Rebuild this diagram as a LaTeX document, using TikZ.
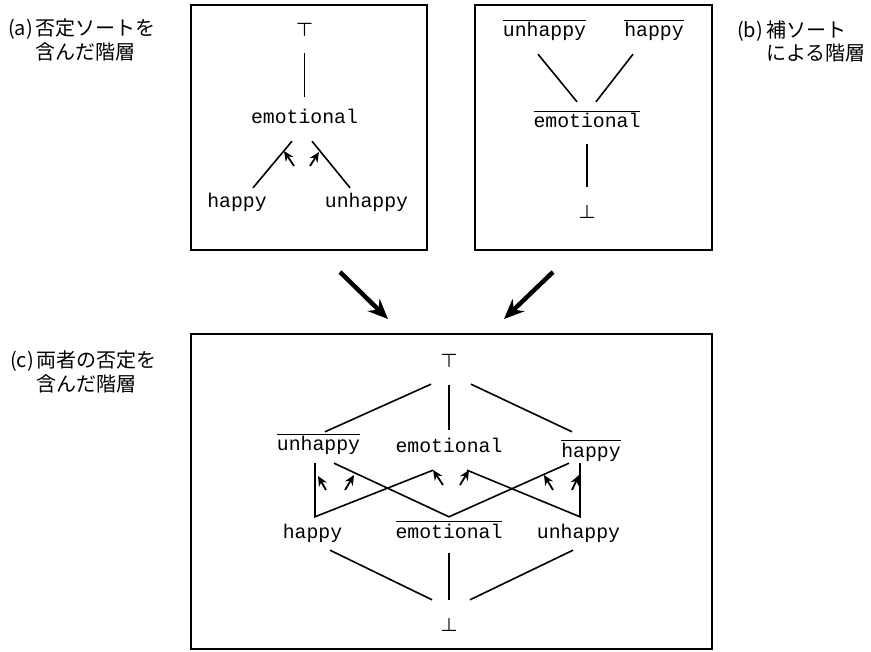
\documentclass[tikz,border=0pt]{standalone}
\usepackage{fontspec}
\usepackage{graphicx}
\newfontfamily\sortfont{Liberation Mono}
\newfontfamily\jpfont{Noto Sans CJK JP}
\usetikzlibrary{arrows.meta}

% overlined sort name and the two bounds
\newcommand\comp[1]{\sbox0{#1}\rlap{\rule[16pt]{\wd0}{1.3pt}}\usebox0}
\newcommand\topsort{\scalebox{1.9}{\boldmath$\top$}}
\newcommand\botsort{\scalebox{1.9}{\boldmath$\bot$}}

\tikzset{
  box/.style={draw, line width=2pt, inner sep=0pt},
  sort/.style={font=\sortfont\fontsize{19.8}{24}\selectfont, inner sep=0pt, text height=12pt, text depth=4pt},
  bound/.style={inner sep=0pt},
  caption/.style={font=\jpfont\fontsize{20}{21}\selectfont, inner sep=0pt, anchor=base west},
  edge/.style={line width=1.6pt},
  negarrow/.style={line width=1.8pt, -{Stealth[length=10pt,width=9pt]}},
  bigarrow/.style={line width=4.5pt, -{Stealth[length=20pt,width=17pt]}},
}

\begin{document}
\begin{tikzpicture}[x=1pt,y=-1pt]
    \useasboundingbox[fill=white] (0,0) rectangle (871,652);

    % frames
    \node[box, minimum width=236pt, minimum height=245pt] (boxa) at (309,127.5) {};
    \node[box, minimum width=237pt, minimum height=245pt] (boxb) at (593.5,127.5) {};
    \node[box, minimum width=521pt, minimum height=315pt] (boxc) at (451.5,491.5) {};

    % captions
    \node[caption] (capa) at (8,36) {\begin{tabular}[t]{@{}l@{\hspace{3pt}}l@{}}(a)&否定ソートを\\&含んだ階層\end{tabular}};
    \node[caption] (capb) at (737,38) {\begin{tabular}[t]{@{}l@{\hspace{3pt}}l@{}}(b)&補ソート\\&による階層\end{tabular}};
    \node[caption] (capc) at (10,368) {\begin{tabular}[t]{@{}l@{\hspace{3pt}}l@{}}(c)&両者の否定を\\&含んだ階層\end{tabular}};

    % (a) negated sorts
    \node[bound] (aT) at (304.5,30) {\topsort};
    \node[sort] (aemo) at (304.5,120) {emotional};
    \node[sort] (ahappy) at (237,204) {happy};
    \node[sort] (aunhappy) at (366.5,204) {unhappy};

    \draw[edge, shorten <=16pt, shorten >=15pt] (aT) -- (aemo);
    \draw[edge] ([shift={(16,-8)}]ahappy.north) -- ([shift={(-12.5,13)}]aemo.south);
    \draw[edge] ([shift={(-16.5,-8)}]aunhappy.north) -- ([shift={(7.5,13)}]aemo.south);
    \draw[negarrow] (294,166) -- (284,151);
    \draw[negarrow] (310,166) -- (319,152);

    % (b) complement sorts
    \node[sort] (bunhappy) at (544.5,33) {\comp{unhappy}};
    \node[sort] (bhappy) at (654,33) {\comp{happy}};
    \node[sort] (bemo) at (587,124) {\comp{emotional}};
    \node[bound] (bB) at (587,212) {\botsort};

    \draw[edge] ([shift={(-6.5,13)}]bunhappy.south) -- ([shift={(-10,-14)}]bemo.north);
    \draw[edge] ([shift={(-21,13)}]bhappy.south) -- ([shift={(9,-14)}]bemo.north);
    \draw[edge, shorten <=12pt, shorten >=18pt] (bemo) -- (bB);

    % (c) both
    \node[bound] (cT) at (449,361) {\topsort};
    \node[sort] (cnu) at (318.5,447) {\comp{unhappy}};
    \node[sort] (cemo) at (449,449) {emotional};
    \node[sort] (cnh) at (591,453) {\comp{happy}};
    \node[sort] (chappy) at (312.5,534) {happy};
    \node[sort] (cnemo) at (449,534) {\comp{emotional}};
    \node[sort] (cunhappy) at (578.5,534) {unhappy};
    \node[bound] (cB) at (449,625) {\botsort};

    \draw[edge] ([shift={(-18,16.4)}]cT.south) -- ([shift={(6.5,-7)}]cnu.north);
    \draw[edge, shorten <=17pt, shorten >=11pt] (cT) -- (cemo);
    \draw[edge] ([shift={(22,16.4)}]cT.south) -- ([shift={(-19,-13)}]cnh.north);

    \draw[edge] ([shift={(-3.5,8)}]cnu.south) -- ([shift={(2.5,-9)}]chappy.north) -- ([shift={(-16,13)}]cemo.south);
    \draw[edge] ([shift={(15.5,8)}]cnu.south) -- ([shift={(0,-9)}]cnemo.north) -- ([shift={(-22,2)}]cnh.south);
    \draw[edge] ([shift={(18,13)}]cemo.south) -- ([shift={(1.5,-9)}]cunhappy.north) -- ([shift={(-11,2)}]cnh.south);

    \draw[negarrow] (326,490) -- (318,476);
    \draw[negarrow] (345,490) -- (354,475);
    \draw[negarrow] (443,485) -- (433,470);
    \draw[negarrow] (460,485) -- (469,470);
    \draw[negarrow] (553,490) -- (544,475);
    \draw[negarrow] (572,490) -- (579,475);

    \draw[edge] ([shift={(17.5,8)}]chappy.south) -- ([shift={(-17,-18.4)}]cB.north);
    \draw[edge, shorten <=11pt, shorten >=18pt] (cnemo) -- (cB);
    \draw[edge] ([shift={(-5.5,8)}]cunhappy.south) -- ([shift={(21,-18.4)}]cB.north);

    % from (a) and (b) to (c)
    \draw[bigarrow] ([shift={(31,21)}]boxa.south) -- ([shift={(-63.5,-14)}]boxc.north);
    \draw[bigarrow] ([shift={(-40.5,21)}]boxb.south) -- ([shift={(52.5,-14)}]boxc.north);
\end{tikzpicture}
\end{document}
